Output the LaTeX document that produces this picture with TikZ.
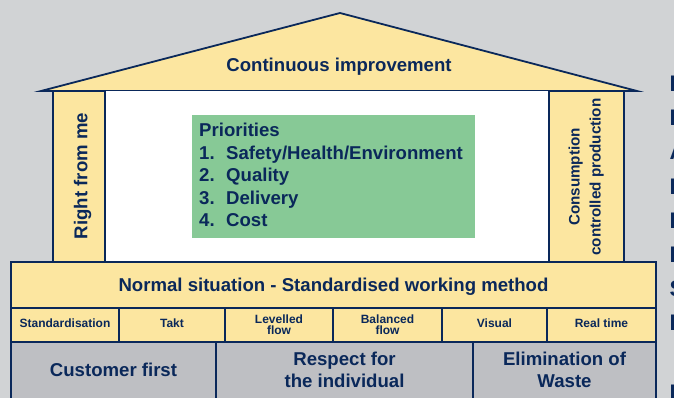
\documentclass[tikz,border=0pt]{standalone}
\usepackage{fontspec}
\setmainfont{Liberation Sans}
\definecolor{bgc}{RGB}{209,211,213}
\definecolor{ylw}{RGB}{252,230,160}
\definecolor{gcell}{RGB}{190,191,195}
\definecolor{grn}{RGB}{135,201,150}
\definecolor{navy}{RGB}{10,40,90}
\tikzset{
  house/.style={draw=navy, line width=1.8pt, line join=miter},
  big/.style={font=\bfseries\fontsize{18.6}{23}\selectfont, text=navy, inner sep=0pt},
  mid/.style={font=\bfseries\fontsize{15.2}{21}\selectfont, text=navy, inner sep=0pt},
  tiny/.style={font=\bfseries\fontsize{12}{11.5}\selectfont, text=navy, inner sep=0pt, align=center},
  edge/.style={font=\bfseries\fontsize{22.5}{26}\selectfont, text=navy, inner sep=0pt, anchor=base west}
}
\begin{document}
\begin{tikzpicture}[x=1pt,y=-1pt]
\useasboundingbox (0,0) rectangle (674,398);
\clip (0,0) rectangle (674,398);
\fill[bgc] (0,0) rectangle (674,398);
% roof
\filldraw[house, fill=ylw] (41,91) -- (340,13) -- (637,91) -- cycle;
% interior
\fill[white] (105,91) rectangle (549,262);
% columns
\filldraw[house, fill=ylw] (53,91) rectangle (105,262);
\filldraw[house, fill=ylw] (549,91) rectangle (624,262);
% green
\fill[grn] (192,115) rectangle (475,238);
% normal band
\filldraw[house, fill=ylw] (11,262) rectangle (656,308);
% small cells
\foreach \a/\b in {11/119,119/225,225/333,333/442,442/547,547/656}
  \filldraw[house, fill=ylw] (\a,308) rectangle (\b,342);
% bottom cells
\foreach \a/\b in {11/216,216/473,473/656}
  \filldraw[house, fill=gcell] (\a,342) rectangle (\b,404);

% texts
\node[big, anchor=base] (ci) at (339,71.5) {Continuous improvement};
\node[big, anchor=base, rotate=90] (rfm) at (87.3,176) {Right from me};
\node[mid, anchor=base, rotate=90] (cons1) at (579.5,177) {Consumption};
\node[mid, anchor=base, rotate=90] (cons2) at (600.5,177) {controlled production};
\node[big, anchor=base west] (p0) at (199,136.7) {Priorities};
\node[big, anchor=base west] (p1) at (199,159.2) {1.};
\node[big, anchor=base west] (p1t) at (226,159.2) {Safety/Health/Environment};
\node[big, anchor=base west] (p2) at (199,181.7) {2.};
\node[big, anchor=base west] (p2t) at (226,181.7) {Quality};
\node[big, anchor=base west] (p3) at (199,204.2) {3.};
\node[big, anchor=base west] (p3t) at (226,204.2) {Delivery};
\node[big, anchor=base west] (p4) at (199,226.7) {4.};
\node[big, anchor=base west] (p4t) at (226,226.7) {Cost};
\node[big, anchor=base] (ns) at (333.5,291) {Normal situation - Standardised working method};
\node[tiny, anchor=base] (s1) at (65,327.3) {Standardisation};
\node[tiny, anchor=base] (s2) at (172,327.3) {Takt};
\node[tiny] (s3) at (279,324.5) {Levelled\\flow};
\node[tiny] (s4) at (387.5,324.5) {Balanced\\flow};
\node[tiny, anchor=base] (s5) at (494.5,327.3) {Visual};
\node[tiny, anchor=base] (s6) at (601.5,327.3) {Real time};
\node[big, anchor=base] (b1) at (113.5,376.7) {Customer first};
\node[big, anchor=base] (b2a) at (344.5,365) {Respect for};
\node[big, anchor=base] (b2b) at (344.5,387.3) {the individual};
\node[big, anchor=base] (b3a) at (564.5,365) {Elimination of};
\node[big, anchor=base] (b3b) at (564.5,387.3) {Waste};
% clipped letters at right edge
\foreach \l/\y [count=\i] in {P/92,E/126,A/160,D/194,E/228,F/262,S/296,H/330,P/400}
  \node[edge] (e\i) at (669.5,\y) {\l};
\end{tikzpicture}
\end{document}
